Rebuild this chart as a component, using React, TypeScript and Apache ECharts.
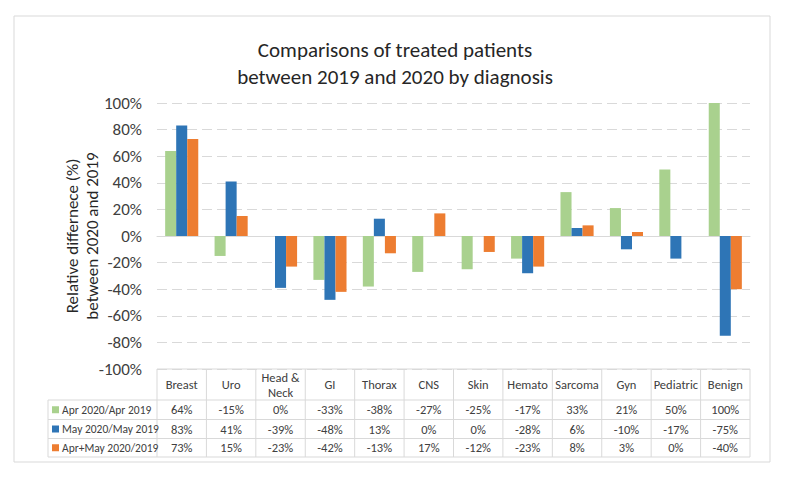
import React, { useEffect, useRef } from "react";
import * as echarts from "echarts";

const categories = ["Breast", "Uro", "Head &\nNeck", "GI", "Thorax", "CNS", "Skin", "Hemato", "Sarcoma", "Gyn", "Pediatric", "Benign"];
const aprValues = [64, -15, 0, -33, -38, -27, -25, -17, 33, 21, 50, 100];
const mayValues = [83, 41, -39, -48, 13, 0, 0, -28, 6, -10, -17, -75];
const bothValues = [73, 15, -23, -42, -13, 17, -12, -23, 8, 3, 0, -40];
const seriesNames = ["Apr 2020/Apr 2019", "May 2020/May 2019", "Apr+May 2020/2019"];
const seriesColors = ["#A9D18E", "#2E75B6", "#ED7D31"];

const FONT = "Carlito, Calibri, 'Liberation Sans Narrow', 'Open Sans', sans-serif";

export default function App() {
  const ref = useRef<HTMLDivElement>(null);
  useEffect(() => {
    if (!ref.current) return;
    const chart = echarts.init(ref.current, null, { renderer: "svg" });
    const gridLeft = 157;
    const gridRight = 750;
    const gridTop = 103;
    const gridBottom = 369;
    const colW = (gridRight - gridLeft) / categories.length;
    const rowY = [369, 400, 419.5, 438.5, 457];
    const legendLeft = 48;
    const lineColor = "#D9D9D9";
    const textColor = "#404040";
    const allSeries = [aprValues, mayValues, bothValues];

    const graphics: any[] = [];
    graphics.push({
      type: "rect",
      silent: true,
      shape: { x: 14, y: 16, width: 756, height: 446 },
      style: { fill: "none", stroke: lineColor, lineWidth: 1 },
    });
    graphics.push({ type: "line", silent: true, shape: { x1: gridLeft, y1: rowY[0], x2: gridRight, y2: rowY[0] }, style: { stroke: lineColor, lineWidth: 1 } });
    for (let r = 1; r < rowY.length; r++) {
      graphics.push({ type: "line", silent: true, shape: { x1: legendLeft, y1: rowY[r], x2: gridRight, y2: rowY[r] }, style: { stroke: lineColor, lineWidth: 1 } });
    }
    graphics.push({ type: "line", silent: true, shape: { x1: legendLeft, y1: rowY[1], x2: legendLeft, y2: rowY[4] }, style: { stroke: lineColor, lineWidth: 1 } });
    for (let i = 0; i <= categories.length; i++) {
      const x = gridLeft + i * colW;
      graphics.push({ type: "line", silent: true, shape: { x1: x, y1: rowY[0], x2: x, y2: rowY[4] }, style: { stroke: lineColor, lineWidth: 1 } });
    }
    categories.forEach((c, i) => {
      graphics.push({
        type: "text",
        silent: true,
        style: {
          text: c,
          x: gridLeft + (i + 0.5) * colW,
          y: (rowY[0] + rowY[1]) / 2,
          align: "center",
          verticalAlign: "middle",
          fontSize: 12.5,
          lineHeight: 15,
          fontFamily: FONT,
          fill: textColor,
        },
      });
    });
    allSeries.forEach((vals, s) => {
      const yMid = (rowY[s + 1] + rowY[s + 2]) / 2;
      graphics.push({
        type: "rect",
        silent: true,
        shape: { x: 52, y: yMid - 3.5, width: 7, height: 7 },
        style: { fill: seriesColors[s] },
      });
      graphics.push({
        type: "text",
        silent: true,
        style: {
          text: seriesNames[s],
          x: 62,
          y: yMid,
          align: "left",
          verticalAlign: "middle",
          fontSize: 11.5,
          fontFamily: FONT,
          fill: textColor,
        },
      });
      vals.forEach((v, i) => {
        graphics.push({
          type: "text",
          silent: true,
          style: {
            text: v + "%",
            x: gridLeft + (i + 0.5) * colW,
            y: yMid,
            align: "center",
            verticalAlign: "middle",
            fontSize: 12.5,
            fontFamily: FONT,
            fill: textColor,
          },
        });
      });
    });

    chart.setOption({
      animation: false,
      backgroundColor: "#ffffff",
      title: {
        text: "Comparisons of treated patients\nbetween 2019 and 2020 by diagnosis",
        left: "center",
        top: 31,
        textStyle: { fontSize: 21, lineHeight: 27, fontWeight: "normal", color: "#262626", fontFamily: FONT },
      },
      grid: { left: gridLeft, right: 790 - gridRight, top: gridTop, bottom: 478 - gridBottom, containLabel: false },
      xAxis: {
        type: "category",
        data: categories,
        axisLabel: { show: false },
        axisTick: { show: false },
        axisLine: { show: true, onZero: true, lineStyle: { color: lineColor, width: 1 } },
      },
      yAxis: {
        type: "value",
        min: -100,
        max: 100,
        interval: 20,
        name: "Relative differnece (%)\nbetween 2020 and 2019",
        nameLocation: "middle",
        nameRotate: 90,
        nameGap: 55,
        nameMoveOverlap: false,
        nameTextStyle: { fontSize: 17, lineHeight: 20, color: "#262626", fontFamily: FONT },
        axisLabel: { formatter: "{value}%", fontSize: 17, color: "#404040", margin: 15, fontFamily: FONT },
        axisLine: { show: false },
        axisTick: { show: false },
        splitLine: { show: true, lineStyle: { color: lineColor, width: 1, type: [10, 5] } },
      },
      series: allSeries.map((vals, s) => ({
        name: seriesNames[s],
        type: "bar",
        data: vals,
        barGap: "0%",
        barCategoryGap: "33%",
        itemStyle: { color: seriesColors[s] },
      })),
      graphic: graphics,
    });
    return () => chart.dispose();
  }, []);
  return <div ref={ref} style={{ position: "fixed", left: 0, top: 0, width: 790, height: 478, background: "#fff" }} />;
}
